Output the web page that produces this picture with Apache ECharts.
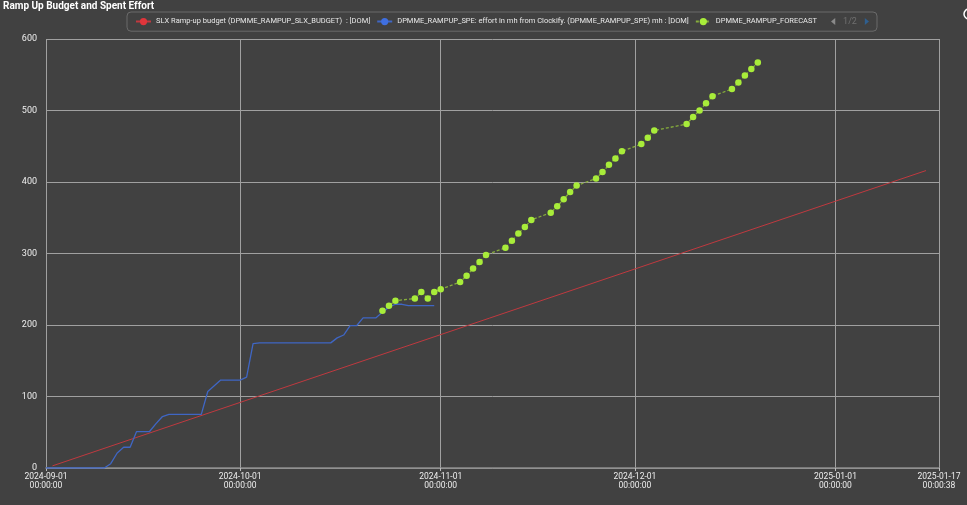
<!DOCTYPE html>
<html>
<head>
<meta charset="utf-8">
<script src="https://cdn.jsdelivr.net/npm/echarts@6/dist/echarts.min.js"></script>
<style>
html,body{margin:0;padding:0;background:#414141;}
#chart{width:967px;height:505px;}
</style>
</head>
<body>
<div id="chart"></div>
<script>
// ---- data ----
const budgetName = 'SLX Ramp-up budget (DPMME_RAMPUP_SLX_BUDGET)  : [DOM]';
const spentName = 'DPMME_RAMPUP_SPE: effort in mh from Clockify. (DPMME_RAMPUP_SPE) mh : [DOM]';
const forecastName = 'DPMME_RAMPUP_FORECAST';
const extraName = 'DPMME_RAMPUP_SLX_BUDGET_REMAINING (DPMME_RAMPUP_REM) mh : [DOM]';

const budgetDates = ['2024-09-02', '2025-01-15'];
const budgetValues = [3, 416];

const spentStart = '2024-09-01'; // one value per day
const spentValues = [
  0, 0, 0, 0, 0, 0, 0, 0, 0, 0,
  6, 21, 29, 29, 51, 51, 51, 62, 72, 75,
  75, 75, 75, 75, 75, 107, 115, 123, 123, 123,
  123, 127, 174, 175, 175, 175, 175, 175, 175, 175,
  175, 175, 175, 175, 175, 182, 186, 199, 199, 210,
  210, 210, 218, 225, 229, 229, 227, 227, 227, 227, 227
];

const forecastDates = [
  '2024-10-23','2024-10-24','2024-10-25','2024-10-28','2024-10-29','2024-10-30','2024-10-31','2024-11-01',
  '2024-11-04','2024-11-05','2024-11-06','2024-11-07','2024-11-08',
  '2024-11-11','2024-11-12','2024-11-13','2024-11-14','2024-11-15',
  '2024-11-18','2024-11-19','2024-11-20','2024-11-21','2024-11-22',
  '2024-11-25','2024-11-26','2024-11-27','2024-11-28','2024-11-29',
  '2024-12-02','2024-12-03','2024-12-04',
  '2024-12-09','2024-12-10','2024-12-11','2024-12-12','2024-12-13',
  '2024-12-16','2024-12-17','2024-12-18','2024-12-19','2024-12-20'
];
const forecastValues = [
  220, 227, 234, 237, 246, 237, 246, 250,
  260, 269, 279, 288, 298,
  308, 318, 328, 337, 347,
  357, 366, 376, 386, 395,
  405, 414, 424, 433, 443,
  453, 462, 472,
  481, 491, 500, 510, 520,
  530, 539, 549, 558, 567
];

const xTickDates = ['2024-09-01', '2024-10-01', '2024-11-01', '2024-12-01', '2025-01-01'];
const xMinDate = '2024-09-01T00:00:00';
const xMaxDate = '2025-01-17T00:00:38';
const yTicks = [0, 100, 200, 300, 400, 500, 600];

// ---- helpers ----
function ts(s) {
  const m = s.match(/(\d+)-(\d+)-(\d+)(?:T(\d+):(\d+):(\d+))?/);
  return Date.UTC(+m[1], +m[2] - 1, +m[3], +(m[4] || 0), +(m[5] || 0), +(m[6] || 0));
}
function fmt(v) {
  const d = new Date(v);
  const p = n => String(n).padStart(2, '0');
  return d.getUTCFullYear() + '-' + p(d.getUTCMonth() + 1) + '-' + p(d.getUTCDate()) + '\n' +
    p(d.getUTCHours()) + ':' + p(d.getUTCMinutes()) + ':' + p(d.getUTCSeconds());
}
const DAY = 86400000;
const xMin = ts(xMinDate), xMax = ts(xMaxDate);
const xTicks = xTickDates.map(ts).concat([xMax]);

const budgetData = budgetDates.map((d, i) => [ts(d), budgetValues[i]]);
const spentData = spentValues.map((v, i) => [ts(spentStart) + i * DAY, v]);
const forecastData = forecastDates.map((d, i) => [ts(d), forecastValues[i]]);

const FONT = 'Roboto';
const chart = echarts.init(document.getElementById('chart'));
chart.setOption({
  backgroundColor: '#414141',
  animation: false,
  title: {
    text: 'Ramp Up Budget and Spent Effort',
    left: 1, top: 0, padding: [1, 2],
    textStyle: { color: '#ffffff', fontSize: 10, fontWeight: 'bold', fontFamily: FONT }
  },
  graphic: [{
    type: 'circle', shape: { cx: 969, cy: 14, r: 5 },
    style: { fill: 'none', stroke: '#ffffff', lineWidth: 1.5 }
  }],
  legend: {
    type: 'scroll',
    left: 127, top: 12, width: 734,
    padding: [5, 8],
    borderColor: '#6a6a6a', borderWidth: 1, borderRadius: 4,
    itemGap: 6, itemWidth: 15, itemHeight: 9,
    textStyle: { color: '#e8e8e8', fontSize: 7.5, fontFamily: FONT },
    pageIconColor: '#2f5f8f', pageIconInactiveColor: '#8a8a8a', pageIconSize: 7,
    pageButtonItemGap: 4, pageButtonGap: 8,
    pageTextStyle: { color: '#6f6f6f', fontSize: 9, fontFamily: FONT },
    data: [budgetName, spentName, forecastName, extraName]
  },
  grid: { left: 46, right: 28, top: 39, bottom: 37 },
  xAxis: {
    type: 'value',
    min: xMin, max: xMax,
    axisLine: { lineStyle: { color: '#8c8c8c', width: 1.5 } },
    axisTick: { show: true, length: 3, customValues: xTicks, lineStyle: { color: '#bdbdbd' } },
    splitLine: { show: true, lineStyle: { color: '#a0a0a0', width: 1 } },
    axisLabel: {
      customValues: xTicks,
      formatter: v => fmt(v),
      color: '#eeeeee', fontSize: 8.5, fontFamily: FONT, lineHeight: 9, margin: 4,
      hideOverlap: false
    }
  },
  yAxis: {
    type: 'value',
    min: yTicks[0], max: yTicks[yTicks.length - 1], interval: 100,
    axisLine: { show: false },
    axisTick: { show: false },
    splitLine: { lineStyle: { color: '#a0a0a0', width: 1 } },
    axisLabel: { color: '#eeeeee', fontSize: 9, fontFamily: FONT, margin: 9 }
  },
  series: [
    {
      name: budgetName, type: 'line', data: budgetData,
      showSymbol: false, symbol: 'circle', symbolSize: 7,
      color: '#e0353b',
      lineStyle: { color: '#c0393f', width: 1 }
    },
    {
      name: spentName, type: 'line', data: spentData,
      showSymbol: false, symbol: 'circle', symbolSize: 7,
      color: '#3f6fe0',
      lineStyle: { color: '#3f66c4', width: 1.3 }
    },
    {
      name: forecastName, type: 'line', data: forecastData,
      symbol: 'circle', symbolSize: 6.5, showSymbol: true,
      color: '#a8ec3a',
      itemStyle: { color: '#a8ec3a' },
      lineStyle: { color: '#86ad3c', width: 1.3, type: [3, 2] }
    },
    {
      name: extraName, type: 'line', data: [],
      showSymbol: false, color: '#f0a030'
    }
  ]
});
</script>
</body>
</html>
